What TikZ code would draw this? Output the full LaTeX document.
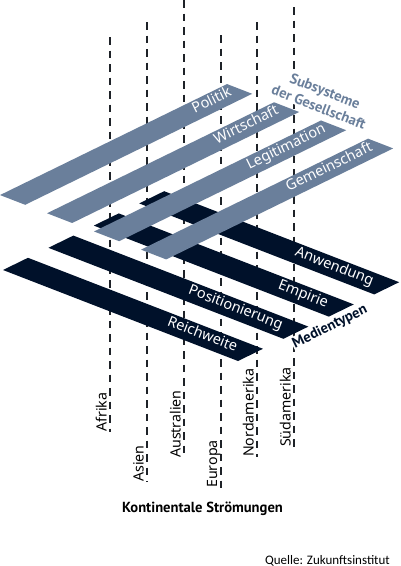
\documentclass[tikz,border=0pt]{standalone}
\usepackage{fontspec}
\setmainfont{Noto Sans}
\newfontfamily\contfont{PT Sans}
\newfontfamily\quellefont{Carlito}
\definecolor{lightband}{RGB}{106,127,155}
\definecolor{darkband}{RGB}{0,17,42}
\definecolor{dashcol}{RGB}{30,34,40}
\begin{document}
\begin{tikzpicture}[x=1pt,y=-1pt,
  guide/.style={draw=dashcol,line width=2pt,dash pattern=on 7.5pt off 6pt},
  contlabel/.style={rotate=90,anchor=base west,inner sep=0pt,font=\fontsize{14.2}{14.2}\selectfont,text=black},
  lightlabel/.style={rotate=26.05,anchor=mid east,inner sep=0pt,text=white,font=\fontsize{14.5}{14.5}\selectfont},
  darklabel/.style={rotate=-21.17,anchor=mid east,inner sep=0pt,text=white,font=\fontsize{14.5}{14.5}\selectfont},
  lightbandstyle/.style={fill=lightband},
  darkbandstyle/.style={fill=darkband}]
\useasboundingbox[fill=white] (0,0) rectangle (400,566);
% dashed guide lines
\coordinate (afT) at (110,37);  \coordinate (afB) at (110,432);
\coordinate (asT) at (147,22);  \coordinate (asB) at (147,482);
\coordinate (auT) at (184,0);   \coordinate (auB) at (184,458);
\coordinate (euT) at (220.5,35);\coordinate (euB) at (220.5,488);
\coordinate (naT) at (257,22);  \coordinate (naB) at (257,457);
\coordinate (saT) at (294,7);   \coordinate (saB) at (294,447);
\foreach \a in {af,as,au,eu,na,sa} {\draw[guide] (\a T) -- (\a B);}
% continent labels
\node[contlabel] (lafrika) at (106.5,432) {Afrika};
\node[contlabel] (lasien) at (143.5,482) {Asien};
\node[contlabel] (laustralien) at (180.5,458) {Australien};
\node[contlabel] (leuropa) at (217,488) {Europa};
\node[contlabel] (lnordamerika) at (253.5,457) {Nordamerika};
\node[contlabel] (lsuedamerika) at (290.5,447) {Südamerika};
% group titles with white background
\node[rotate=-21.17,fill=white,inner sep=1pt,align=center,text=lightband,
  font=\contfont\bfseries\fontsize{14.5}{17.5}\selectfont] (subsys) at (322,99) {Subsysteme\\der Gesellschaft};
\node[rotate=26.05,fill=white,inner sep=1pt,text=darkband,
  font=\contfont\bfseries\fontsize{14.6}{14.6}\selectfont] (medien) at (330,327) {Medientypen};
% bands
\begin{scope}[shift={(3,270)},x={(227pt,111pt)},y={(235pt,-91pt)}]
  \foreach \j in {0,1,2,3} {\fill[darkbandstyle] ({0.2*\j},0) -- ({0.2*\j+0.11},0) -- ({0.2*\j+0.11},1) -- ({0.2*\j},1) -- cycle;}
  \foreach \i in {0,1,2,3} {\fill[lightbandstyle] (0.371,{-0.371+0.2*\i}) -- (1.371,{-0.371+0.2*\i}) -- (1.371,{-0.371+0.2*\i+0.107}) -- (0.371,{-0.371+0.2*\i+0.107}) -- cycle;}
  \node[darklabel] (reichweite) at (0.055,0.94) {Reichweite};
  \node[darklabel] (positionierung) at (0.255,0.94) {Positionierung};
  \node[darklabel] (empirie) at (0.455,0.94) {Empirie};
  \node[darklabel] (anwendung) at (0.655,0.94) {Anwendung};
  \node[lightlabel] (politik) at (1.335,-0.3175) {Politik};
  \node[lightlabel] (wirtschaft) at (1.335,-0.1175) {Wirtschaft};
  \node[lightlabel] (legitimation) at (1.335,0.0825) {Legitimation};
  \node[lightlabel] (gemeinschaft) at (1.335,0.2825) {Gemeinschaft};
\end{scope}
% bottom texts
\node[anchor=base,inner sep=0pt,font=\contfont\bfseries\fontsize{14.6}{14.6}\selectfont] (kont) at (202.5,512.5) {Kontinentale Strömungen};
\node[anchor=base east,inner sep=0pt,font=\quellefont\fontsize{13}{13}\selectfont] (quelle) at (390,564) {Quelle: Zukunftsinstitut};
\end{tikzpicture}
\end{document}
